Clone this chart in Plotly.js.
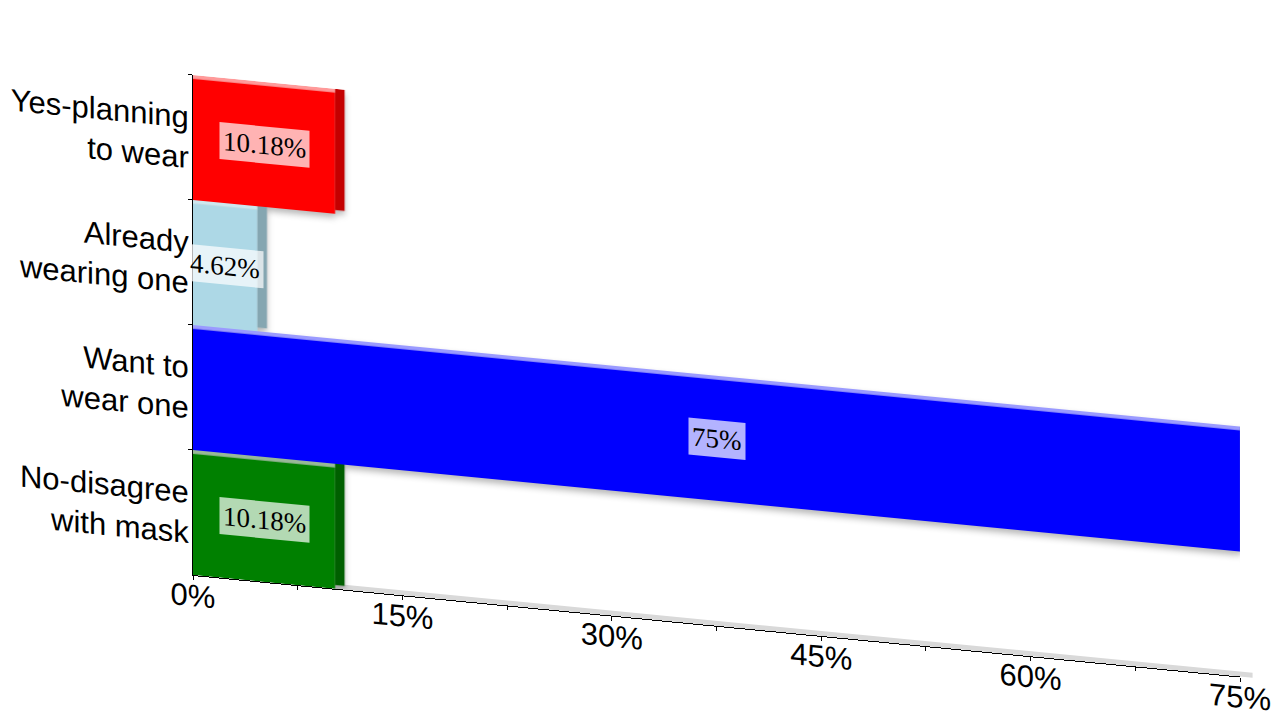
<!DOCTYPE html>
<html>
<head>
<meta charset="utf-8">
<script src="https://cdn.plot.ly/plotly-3.0.1.min.js"></script>
<style>
  html, body { margin: 0; padding: 0; background: #ffffff; overflow: hidden; }
  #chart {
    position: absolute; left: 0; top: 0; width: 1280px; height: 720px;
    transform-origin: 193px 0px;
    transform: skewY(5.54deg);
  }
</style>
</head>
<body>
<div id="chart"></div>
<script>
// ---- data (top to bottom) ----
const categories = [
  "Yes-planning<br>to wear",
  "Already<br>wearing one",
  "Want to<br>wear one",
  "No-disagree<br>with mask"
];
const values = [10.18, 4.62, 75, 10.18];
const valueLabels = values.map(v => v + "%");
const xTickValues = [0, 15, 30, 45, 60, 75];
const xTickLabels = ["0%", "15%", "30%", "45%", "60%", "75%"];

// ---- styles ----
const frontColors = ["#ff0000", "#add8e6", "#0000ff", "#008000"];
const topColors   = ["#ff9a9a", "#cde7ef", "#9a9aff", "#98b898"];
const sideColors  = ["#c40000", "#85a6b1", "#0000c8", "#005f00"];
const depth = 0.68; // visual depth of the 3D side face, in axis units

const frontTrace = {
  type: "bar", orientation: "h",
  y: categories, x: values,
  offset: -0.47, width: 0.97,
  marker: { color: frontColors, line: { width: 0 } },
  hoverinfo: "skip", showlegend: false
};
const topTrace = {
  type: "bar", orientation: "h",
  y: categories, x: values,
  offset: -0.5, width: 0.03,
  marker: { color: topColors, line: { width: 0 } },
  hoverinfo: "skip", showlegend: false
};
const sideTrace = {
  type: "bar", orientation: "h",
  y: categories, x: values.map(() => depth), base: values,
  offset: -0.5, width: 0.97,
  marker: { color: sideColors, line: { width: 0 } },
  hoverinfo: "skip", showlegend: false
};

const annotations = categories.map((c, i) => ({
  x: values[i] / 2, y: c, xref: "x", yref: "y",
  text: valueLabels[i], showarrow: false,
  font: { family: "Liberation Serif, Times New Roman, serif", size: 27, color: "#000000" },
  bgcolor: "rgba(255,255,255,0.7)", borderpad: 3
}));

const layout = {
  width: 1280, height: 720,
  margin: { l: 193, r: 40, t: 75, b: 145, pad: 0 },
  paper_bgcolor: "#ffffff", plot_bgcolor: "rgba(0,0,0,0)",
  barmode: "overlay",
  showlegend: false,
  font: { family: "Liberation Sans, Arial, sans-serif", size: 31, color: "#000000" },
  xaxis: {
    range: [0, 75], tickmode: "array", tickvals: xTickValues, ticktext: xTickLabels,
    showgrid: false, zeroline: false,
    showline: true, linecolor: "#000000", linewidth: 1,
    ticks: "outside", ticklen: 4, tickcolor: "#000000",
    ticklabelstandoff: -11,
    minor: { dtick: 7.5, ticks: "outside", ticklen: 4, tickcolor: "#000000", showgrid: false },
    tickfont: { family: "Liberation Sans, Arial, sans-serif", size: 31, color: "#000000" }
  },
  yaxis: {
    type: "category", range: [3.5, -0.5],
    showgrid: false, zeroline: false,
    showline: true, linecolor: "#000000", linewidth: 1,
    ticks: "outside", ticklen: 4, tickcolor: "#000000", tickson: "boundaries",
    ticklabelstandoff: -3,
    tickfont: { family: "Liberation Sans, Arial, sans-serif", size: 31, color: "#000000" }
  },
  shapes: [{
    type: "rect", xref: "paper", yref: "paper",
    x0: 0, x1: 1.012, y0: 0, y1: 0.01,
    fillcolor: "#d9d9d9", line: { width: 0 }, layer: "below"
  }],
  annotations: annotations
};

Plotly.newPlot("chart", [topTrace, frontTrace, sideTrace], layout, { staticPlot: true, displayModeBar: false })
  .then(() => {
    document.querySelectorAll("#chart .barlayer").forEach(g => {
      g.style.filter = "drop-shadow(0px 4px 3px rgba(0,0,0,0.28))";
    });
  });
</script>
</body>
</html>
